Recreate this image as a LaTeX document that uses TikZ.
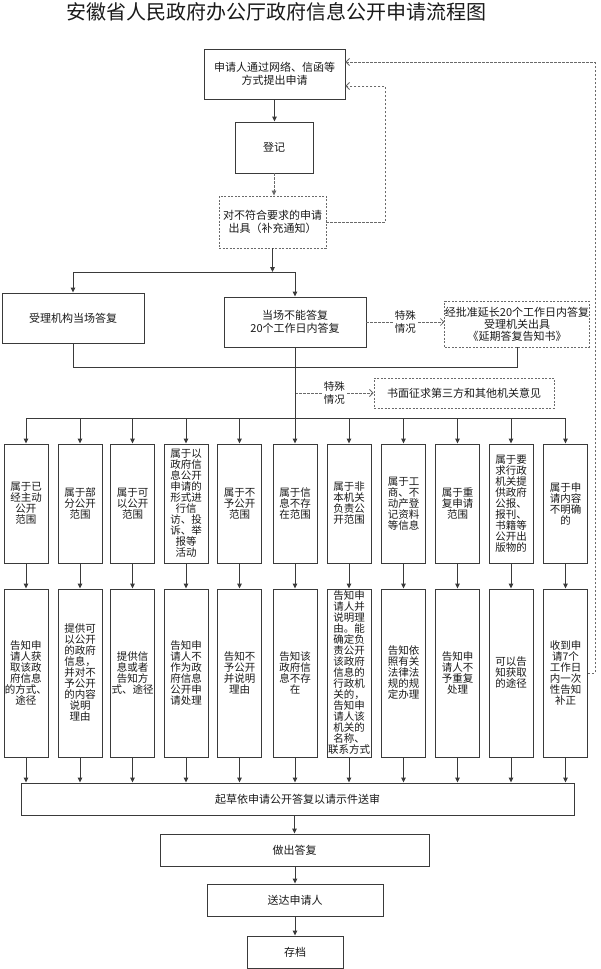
\documentclass[tikz,border=0pt]{standalone}
\usepackage{fontspec}
\setmainfont{Noto Sans CJK SC}
\usetikzlibrary{arrows.meta}
\definecolor{lnc}{HTML}{3A3A3A}
\definecolor{dlc}{HTML}{6A6A6A}
\definecolor{txc}{HTML}{1A1A1A}
\tikzset{
  box/.style={draw=lnc, line width=0.9pt, fill=white, text=txc, align=center, inner sep=0pt,
    font=\fontsize{11}{13}\selectfont},
  dbox/.style={box, draw=dlc, dash pattern=on 2pt off 1.5pt},
  colbox/.style={box, minimum width=44pt, font=\fontsize{10.5}{11}\selectfont},
  rowa/.style={colbox, minimum height=119pt},
  rowb/.style={colbox, minimum height=168pt},
  conn/.style={draw=lnc, line width=0.9pt},
  arr/.style={conn, -{Triangle[length=5pt,width=4.5pt]}},
  darr/.style={draw=dlc, line width=0.8pt, dash pattern=on 2.5pt off 1.5pt, -{Straight Barb[length=3.5pt,width=7pt]}},
  darrf/.style={draw=dlc, line width=0.8pt, dash pattern=on 2.5pt off 1.5pt, -{Triangle[length=5pt,width=4.5pt]}},
  lbl/.style={fill=white, text=txc, align=center, inner sep=1pt, font=\fontsize{10.5}{13}\selectfont},
}
\begin{document}
\begin{tikzpicture}[x=1pt,y=-1pt]
\useasboundingbox[fill=white] (0,0) rectangle (600,969);

\node[text=txc, font=\fontsize{20}{22}\selectfont] (title) at (276,12) {安徽省人民政府办公厅政府信息公开申请流程图};

\node[box, minimum width=141pt, minimum height=50pt] (apply) at (274.5,74) {申请人通过网络、信函等\\方式提出申请};
\node[box, minimum width=78pt, minimum height=51pt] (reg) at (274,147.5) {登记};
\node[dbox, minimum width=107pt, minimum height=52pt] (notice) at (272.5,222) {对不符合要求的申请\\出具（补充通知）};
\node[box, minimum width=142pt, minimum height=50pt] (spot) at (73,318) {受理机构当场答复};
\node[box, minimum width=142pt, minimum height=50pt] (later) at (295,322) {当场不能答复\\20个工作日内答复};
\node[dbox, minimum width=144pt, minimum height=46pt, font=\fontsize{11}{12}\selectfont] (ext) at (517,324) {经批准延长20个工作日内答复\\受理机关出具\\《延期答复告知书》};
\node[dbox, minimum width=180pt, minimum height=30pt] (third) at (464,393) {书面征求第三方和其他机关意见};

% row 1
\node[rowa] (a1) at (26,503.5) {属于已\\经主动\\公开\\范围};
\node[rowa] (a2) at (80,503.5) {属于部\\分公开\\范围};
\node[rowa] (a3) at (132.5,503.5) {属于可\\以公开\\范围};
\node[rowa] (a4) at (186,503.5) {属于以\\政府信\\息公开\\申请的\\形式进\\行信\\访、投\\诉、举\\报等\\活动};
\node[rowa] (a5) at (239.5,503.5) {属于不\\予公开\\范围};
\node[rowa] (a6) at (295,503.5) {属于信\\息不存\\在范围};
\node[rowa] (a7) at (349,503.5) {属于非\\本机关\\负责公\\开范围};
\node[rowa] (a8) at (403.5,503.5) {属于工\\商、不\\动产登\\记资料\\等信息};
\node[rowa] (a9) at (457.5,503.5) {属于重\\复申请\\范围};
\node[rowa] (a10) at (511,503.5) {属于要\\求行政\\机关提\\供政府\\公报、\\报刊、\\书籍等\\公开出\\版物的};
\node[rowa] (a11) at (565.5,503.5) {属于申\\请内容\\不明确\\的};

% row 2
\node[rowb] (b1) at (26,673) {告知申\\请人获\\取该政\\府信息\\的方式、\\途径};
\node[rowb] (b2) at (80,673) {提供可\\以公开\\的政府\\信息，\\并对不\\予公开\\的内容\\说明\\理由};
\node[rowb] (b3) at (132.5,673) {提供信\\息或者\\告知方\\式、途径};
\node[rowb] (b4) at (186,673) {告知申\\请人不\\作为政\\府信息\\公开申\\请处理};
\node[rowb] (b5) at (239.5,673) {告知不\\予公开\\并说明\\理由};
\node[rowb] (b6) at (295,673) {告知该\\政府信\\息不存\\在};
\node[rowb] (b7) at (349,673) {告知申\\请人并\\说明理\\由。能\\确定负\\责公开\\该政府\\信息的\\行政机\\关的，\\告知申\\请人该\\机关的\\名称、\\联系方式};
\node[rowb] (b8) at (403.5,673) {告知依\\照有关\\法律法\\规的规\\定办理};
\node[rowb] (b9) at (457.5,673) {告知申\\请人不\\予重复\\处理};
\node[rowb] (b10) at (511,673) {可以告\\知获取\\的途径};
\node[rowb] (b11) at (565.5,673) {收到申\\请7个\\工作日\\内一次\\性告知\\补正};

\node[box, minimum width=553pt, minimum height=32pt] (draft) at (297.5,799) {起草依申请公开答复以请示件送审};
\node[box, minimum width=269pt, minimum height=32pt] (reply) at (294.5,850) {做出答复};
\node[box, minimum width=176pt, minimum height=32pt] (send) at (295,900) {送达申请人};
\node[box, minimum width=96pt, minimum height=32pt] (arch) at (295,952) {存档};

% coordinates
\coordinate (split) at (274,272);
\coordinate (merge) at (295,367);
\coordinate (dist) at (295,418);
\coordinate (s2) at (295,393);

% top connectors
\draw[arr] (apply.south) -- (apply.south |- reg.north);
\draw[darrf] (reg.south) -- (reg.south |- notice.north);
\draw[arr] (notice.south) -- (notice.south |- split);
\draw[conn] (spot.north |- split) -- (later.north |- split);
\draw[arr] (spot.north |- split) -- (spot.north);
\draw[arr] (later.north |- split) -- (later.north);

% feedback loops
\draw[darr] (notice.east) -- ++(59,0) |- ([yshift=-12pt]apply.east);
\draw[darr] (b11.east) -- ++(7,0) |- ([yshift=12pt]apply.east);

% special cases
\draw[darr] (later.east) -- node[lbl] {特殊\\情况} (later.east -| ext.west);
\draw[darr] (s2) -- node[lbl] {特殊\\情况} (s2 -| third.west);

% merge lines
\draw[conn] (spot.south) -- (spot.south |- merge) -| (ext.south);
\draw[conn] (later.south) -- (dist);
\draw[conn] (a1.north |- dist) -- (a11.north |- dist);

\foreach \i in {1,...,11} {
  \draw[arr] (a\i.north |- dist) -- (a\i.north);
  \draw[arr] (a\i.south) -- (b\i.north);
  \draw[arr] (b\i.south) -- (b\i.south |- draft.north);
}

\draw[arr] (draft.south -| reply.north) -- (reply.north);
\draw[arr] (reply.south -| send.north) -- (send.north);
\draw[arr] (send.south) -- (arch.north);
\end{tikzpicture}
\end{document}
